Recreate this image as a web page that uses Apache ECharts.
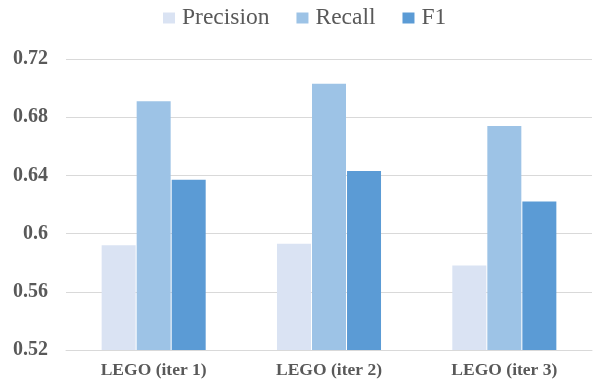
<!DOCTYPE html>
<html>
<head>
<meta charset="utf-8">
<script src="https://cdn.jsdelivr.net/npm/echarts@6/dist/echarts.min.js"></script>
<style>
  html, body { margin: 0; padding: 0; background: #fff; }
  #chart { width: 597px; height: 382px; }
</style>
</head>
<body>
<div id="chart"></div>
<script>
const categories = ['LEGO (iter 1)', 'LEGO (iter 2)', 'LEGO (iter 3)'];
const precision = [0.592, 0.593, 0.578];
const recall = [0.691, 0.703, 0.674];
const f1 = [0.637, 0.643, 0.622];
const yTicks = [0.52, 0.56, 0.6, 0.64, 0.68, 0.72];

const serif = '"Liberation Serif", "Times New Roman", serif';
const chart = echarts.init(document.getElementById('chart'));

function barSeries(name, data, color) {
  return {
    name: name,
    type: 'bar',
    data: data,
    barWidth: 34,
    barGap: '3%',
    itemStyle: { color: color },
    emphasis: { disabled: true }
  };
}

chart.setOption({
  animation: false,
  legend: {
    top: 1,
    left: 158,
    itemWidth: 12,
    itemHeight: 11,
    itemGap: 27,
    icon: 'rect',
    textStyle: { fontFamily: serif, fontSize: 23.5, color: '#595959', padding: [0, 0, 0, 2] },
    data: ['Precision', 'Recall', 'F1']
  },
  grid: { left: 66, right: 5, top: 59, bottom: 32, containLabel: false },
  xAxis: {
    type: 'category',
    data: categories,
    axisLine: { lineStyle: { color: '#d9d9d9', width: 1 } },
    axisTick: { show: false },
    axisLabel: { fontFamily: serif, fontSize: 17.5, fontWeight: 'bold', color: '#595959', margin: 11 }
  },
  yAxis: {
    type: 'value',
    min: yTicks[0],
    max: yTicks[yTicks.length - 1],
    interval: 0.04,
    axisLine: { show: false },
    axisTick: { show: false },
    splitLine: { lineStyle: { color: '#d9d9d9', width: 1 } },
    axisLabel: {
      fontFamily: serif, fontSize: 20, fontWeight: 'bold', color: '#595959', margin: 18,
      formatter: v => String(parseFloat(v.toFixed(2)))
    }
  },
  series: [
    barSeries('Precision', precision, '#dae3f3'),
    barSeries('Recall', recall, '#9dc3e6'),
    barSeries('F1', f1, '#5b9bd5')
  ]
});
</script>
</body>
</html>
